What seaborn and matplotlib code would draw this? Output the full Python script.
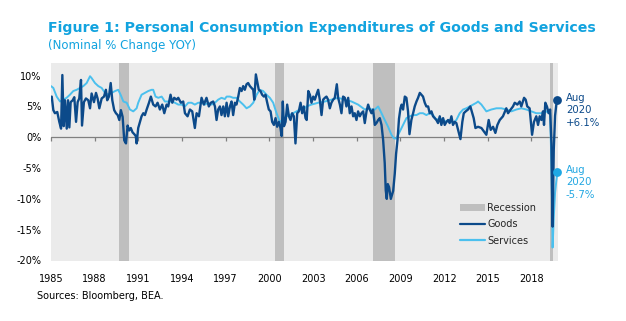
import numpy as np
import pandas as pd
import matplotlib
matplotlib.use("Agg")
import matplotlib.pyplot as plt
import seaborn as sns
from matplotlib.patches import Patch
from matplotlib.lines import Line2D

# ---------------- data ----------------
goods_year = [
    1985.85, 1985.96, 1986.07, 1986.23, 1986.37, 1986.49, 1986.58, 1986.67, 1986.76, 1986.88,
    1986.97, 1987.06, 1987.15, 1987.29, 1987.40, 1987.52, 1987.63, 1987.74, 1987.86, 1987.93,
    1988.06, 1988.20, 1988.36, 1988.48, 1988.59, 1988.75, 1988.89, 1989.00, 1989.12, 1989.28,
    1989.44, 1989.57, 1989.66, 1989.78, 1989.90, 1990.01, 1990.14, 1990.26, 1990.38, 1990.49,
    1990.60, 1990.72, 1990.83, 1990.95, 1991.06, 1991.17, 1991.28, 1991.40, 1991.52, 1991.62,
    1991.68, 1991.79, 1991.91, 1992.02, 1992.14, 1992.25, 1992.37, 1992.53, 1992.66, 1992.82,
    1992.98, 1993.12, 1993.28, 1993.44, 1993.58, 1993.74, 1993.85, 1994.01, 1994.13, 1994.26,
    1994.43, 1994.54, 1994.72, 1994.88, 1995.00, 1995.18, 1995.34, 1995.50, 1995.68, 1995.80,
    1995.96, 1996.14, 1996.30, 1996.48, 1996.64, 1996.78, 1996.94, 1997.06, 1997.17, 1997.28,
    1997.40, 1997.51, 1997.63, 1997.74, 1997.86, 1997.97, 1998.09, 1998.20, 1998.31, 1998.43,
    1998.54, 1998.66, 1998.77, 1998.89, 1999.00, 1999.11, 1999.23, 1999.34, 1999.46, 1999.57,
    1999.69, 1999.76, 1999.87, 1999.96, 2000.07, 2000.19, 2000.30, 2000.42, 2000.53, 2000.65,
    2000.76, 2000.88, 2000.99, 2001.11, 2001.22, 2001.33, 2001.45, 2001.56, 2001.64, 2001.72,
    2001.80, 2001.91, 2002.02, 2002.14, 2002.25, 2002.36, 2002.48, 2002.59, 2002.71, 2002.82,
    2002.94, 2003.05, 2003.16, 2003.28, 2003.36, 2003.47, 2003.58, 2003.69, 2003.81, 2003.92,
    2004.03, 2004.15, 2004.26, 2004.38, 2004.49, 2004.61, 2004.72, 2004.83, 2004.95, 2005.06,
    2005.18, 2005.29, 2005.43, 2005.52, 2005.64, 2005.75, 2005.86, 2005.98, 2006.09, 2006.21,
    2006.32, 2006.44, 2006.55, 2006.66, 2006.78, 2006.89, 2007.01, 2007.12, 2007.24, 2007.35,
    2007.47, 2007.58, 2007.69, 2007.81, 2007.92, 2008.04, 2008.15, 2008.27, 2008.38, 2008.50,
    2008.61, 2008.72, 2008.79, 2008.86, 2008.93, 2009.02, 2009.14, 2009.30, 2009.41, 2009.50,
    2009.60, 2009.70, 2009.80, 2009.88, 2009.98, 2010.10, 2010.21, 2010.32, 2010.42, 2010.55,
    2010.67, 2010.78, 2010.90, 2011.01, 2011.13, 2011.24, 2011.35, 2011.47, 2011.58, 2011.70,
    2011.81, 2011.93, 2012.04, 2012.16, 2012.27, 2012.38, 2012.50, 2012.61, 2012.73, 2012.84,
    2012.96, 2013.07, 2013.18, 2013.30, 2013.41, 2013.53, 2013.64, 2013.76, 2013.92, 2014.05,
    2014.15, 2014.28, 2014.44, 2014.60, 2014.70, 2014.83, 2014.95, 2015.13, 2015.36, 2015.70,
    2015.86, 2016.00, 2016.16, 2016.32, 2016.46, 2016.62, 2016.84, 2017.07, 2017.19, 2017.37,
    2017.53, 2017.65, 2017.83, 2017.99, 2018.10, 2018.29, 2018.40, 2018.51, 2018.67, 2018.84,
    2018.97, 2019.13, 2019.25, 2019.36, 2019.48, 2019.59, 2019.66, 2019.75, 2019.86, 2019.98,
    2020.08, 2020.17, 2020.25, 2020.33, 2020.42, 2020.50, 2020.58,
]
goods_pct = [
    6.6, 4.4, 3.9, 4.1, 2.5, 1.4, 10.1, 1.8, 6.0, 1.4,
    6.0, 1.6, 5.7, 6.0, 6.5, 2.5, 5.7, 6.3, 9.3, 1.9,
    5.7, 6.3, 6.0, 4.7, 7.1, 5.7, 7.2, 6.3, 4.7, 6.3,
    6.6, 7.7, 6.0, 6.6, 8.8, 6.0, 4.4, 3.9, 3.6, 2.8,
    4.4, 3.3, -0.5, -1.0, 1.9, 1.1, 1.5, 0.8, 0.5, 0.2,
    -1.0, 1.5, 2.5, 3.4, 3.9, 3.6, 4.5, 5.6, 6.6, 5.3,
    5.0, 5.6, 4.5, 5.3, 3.9, 5.3, 5.0, 6.9, 5.6, 6.4,
    6.1, 6.4, 5.6, 5.8, 3.9, 3.4, 4.5, 4.2, 1.5, 3.9,
    3.4, 6.4, 5.3, 6.4, 5.0, 5.6, 5.8, 5.0, 2.8, 4.5,
    5.0, 3.6, 5.0, 3.4, 5.6, 3.4, 5.0, 5.8, 3.6, 5.6,
    5.3, 6.6, 8.0, 7.5, 8.3, 7.7, 8.6, 8.8, 8.3, 8.0,
    7.7, 6.1, 10.2, 9.1, 7.7, 7.5, 6.9, 6.6, 6.9, 5.6,
    4.5, 4.2, 2.5, 2.0, 3.1, 1.7, 2.5, 1.5, 0.2, 5.8,
    1.8, 2.5, 5.3, 3.4, 2.8, 3.9, 3.4, -1.0, 3.9, 4.2,
    5.6, 3.9, 5.0, 3.1, 2.8, 7.5, 6.9, 5.6, 6.6, 6.1,
    6.9, 7.7, 6.1, 3.6, 6.1, 6.4, 6.6, 6.1, 4.7, 5.6,
    6.1, 6.4, 8.6, 6.4, 5.3, 3.9, 6.6, 6.4, 5.0, 6.4,
    3.9, 5.0, 3.4, 3.9, 2.8, 4.2, 3.4, 3.9, 4.2, 2.3,
    4.2, 5.3, 4.5, 3.9, 4.5, 2.0, 2.3, 2.8, 3.1, 2.0,
    -0.4, -4.2, -8.6, -10.0, -7.6, -8.1, -10.0, -8.7, -5.9, -2.7,
    -0.4, 3.0, 4.7, 5.3, 4.5, 6.6, 6.4, 4.2, 0.5, 2.8,
    3.9, 5.0, 5.8, 6.4, 7.2, 6.9, 6.6, 5.6, 5.0, 5.0,
    3.9, 4.2, 3.4, 3.1, 2.8, 2.3, 3.4, 2.0, 3.1, 2.0,
    2.5, 2.8, 2.3, 3.4, 2.0, 2.5, 2.3, 1.2, -0.3, 2.5,
    3.9, 4.2, 4.5, 5.0, 4.2, 3.1, 1.5, 1.7, 1.5, 0.4,
    2.8, 1.2, 1.7, 0.7, 2.0, 2.8, 3.4, 4.7, 3.9, 4.5,
    5.0, 5.6, 5.3, 5.8, 5.0, 6.4, 6.1, 5.0, 4.7, 0.4,
    2.5, 3.4, 2.0, 3.4, 2.8, 4.2, 2.0, 5.6, 5.0, 3.9,
    4.5, -1.0, -14.5, -2.0, 3.5, 5.2, 6.1,
]

services_year = [
    1985.80, 1985.96, 1986.19, 1986.42, 1986.65, 1986.87, 1987.10, 1987.33, 1987.56, 1987.79,
    1988.02, 1988.25, 1988.48, 1988.59, 1988.82, 1989.05, 1989.28, 1989.51, 1989.74, 1989.97,
    1990.20, 1990.42, 1990.58, 1990.77, 1991.00, 1991.22, 1991.45, 1991.68, 1991.79, 1992.02,
    1992.25, 1992.48, 1992.71, 1992.82, 1992.98, 1993.17, 1993.40, 1993.62, 1993.85, 1994.08,
    1994.31, 1994.54, 1994.77, 1995.00, 1995.23, 1995.45, 1995.68, 1995.91, 1996.14, 1996.37,
    1996.60, 1996.83, 1997.06, 1997.28, 1997.51, 1997.74, 1997.86, 1998.09, 1998.31, 1998.54,
    1998.77, 1999.00, 1999.23, 1999.46, 1999.69, 1999.92, 2000.14, 2000.37, 2000.60, 2000.83,
    2001.06, 2001.29, 2001.52, 2001.75, 2001.97, 2002.20, 2002.43, 2002.66, 2002.89, 2003.12,
    2003.35, 2003.69, 2004.15, 2004.61, 2005.06, 2005.52, 2005.98, 2006.44, 2006.89, 2007.35,
    2007.58, 2007.81, 2008.04, 2008.27, 2008.50, 2008.72, 2008.95, 2009.18, 2009.36, 2009.52,
    2009.75, 2009.98, 2010.21, 2010.44, 2010.67, 2010.90, 2011.13, 2011.35, 2011.58, 2011.81,
    2012.04, 2012.27, 2012.50, 2012.73, 2012.96, 2013.18, 2013.41, 2013.64, 2013.87, 2014.10,
    2014.33, 2014.56, 2014.79, 2015.02, 2015.13, 2015.36, 2015.70, 2016.04, 2016.39, 2016.73,
    2017.07, 2017.42, 2017.76, 2018.10, 2018.45, 2018.79, 2019.13, 2019.48, 2019.82, 2020.00,
    2020.08, 2020.17, 2020.25, 2020.33, 2020.42, 2020.50, 2020.58,
]
services_pct = [
    8.3, 8.0, 6.6, 5.8, 6.1, 6.4, 6.9, 7.5, 7.7, 8.0,
    8.3, 8.8, 9.9, 9.6, 8.8, 8.3, 8.0, 7.2, 6.9, 7.2,
    7.5, 7.7, 6.9, 5.8, 5.6, 4.5, 4.2, 4.7, 5.6, 6.9,
    7.2, 7.5, 7.7, 7.7, 6.6, 6.4, 6.6, 5.8, 5.8, 5.8,
    5.6, 5.3, 5.3, 5.0, 5.6, 5.6, 5.3, 5.6, 5.6, 5.3,
    5.6, 5.3, 5.6, 6.1, 6.4, 6.2, 6.6, 6.6, 6.4, 6.4,
    5.8, 5.3, 4.7, 5.0, 5.6, 6.9, 7.7, 7.5, 6.9, 6.4,
    5.6, 3.9, 2.5, 2.8, 3.4, 3.6, 3.9, 4.2, 4.5, 4.5,
    5.0, 5.3, 5.6, 5.8, 6.1, 6.4, 6.1, 5.8, 5.3, 4.5,
    4.7, 4.5, 4.5, 5.0, 3.9, 2.8, 1.7, 0.4, -0.2, -0.2,
    0.9, 2.0, 3.1, 3.4, 3.6, 3.6, 3.9, 3.9, 3.6, 3.9,
    3.6, 2.8, 3.1, 2.8, 2.5, 2.8, 2.3, 2.8, 3.9, 4.5,
    4.7, 5.0, 5.3, 5.6, 5.8, 5.3, 4.2, 4.5, 4.7, 4.7,
    4.5, 4.2, 4.5, 4.7, 4.5, 4.2, 3.9, 3.9, 4.2, 3.9,
    3.9, -4.5, -17.9, -13.0, -9.0, -7.2, -5.7,
]

recession_start = [1990.50, 2001.17, 2007.92, 2020.08]
recession_end = [1991.17, 2001.83, 2009.42, 2020.25]

tick_years = [1985, 1988, 1991, 1994, 1997, 2000, 2003, 2006, 2009, 2012, 2015, 2018]
y_ticks = [-20, -15, -10, -5, 0, 5, 10]

last_label_goods = "Aug\n2020\n+6.1%"
last_label_services = "Aug\n2020\n-5.7%"

# ---------------- styling ----------------
GOODS = "#0C4A8A"
SERV = "#4BC0EE"
SERV_TXT = "#22A7E2"
TITLE = "#12A3DF"
BG = "#EBEBEB"
REC = "#BFBFBF"

sns.set_style("white")
plt.rcParams["font.family"] = ["DejaVu Sans"]

W, H = 626, 321
fig = plt.figure(figsize=(W / 100, H / 100), dpi=100)
ax = fig.add_axes([51 / W, 1 - 260.5 / H, (557.7 - 51) / W, (260.5 - 63.3) / H])
ax.set_facecolor(BG)

for s, e in zip(recession_start, recession_end):
    ax.axvspan(s, e, color=REC, lw=0, zorder=1)

ax.axhline(0, color="#808080", lw=0.9, zorder=2)

df_g = pd.DataFrame({"year": goods_year, "pct": goods_pct})
df_s = pd.DataFrame({"year": services_year, "pct": services_pct})
sns.lineplot(data=df_s, x="year", y="pct", ax=ax, color=SERV, lw=1.4,
             estimator=None, sort=False, zorder=3)
sns.lineplot(data=df_g, x="year", y="pct", ax=ax, color=GOODS, lw=1.7,
             estimator=None, sort=False, zorder=4)

# end-point markers
sns.scatterplot(x=[goods_year[-1]], y=[goods_pct[-1]], ax=ax, color=GOODS,
                s=40, linewidth=0, zorder=6, clip_on=False)
sns.scatterplot(x=[services_year[-1]], y=[services_pct[-1]], ax=ax, color="#1EA8E4",
                s=40, linewidth=0, zorder=6, clip_on=False)

xmin, xmax = 1985.8, 2020.6
ax.set_xlim(xmin, xmax)
ax.set_ylim(-20, 12)

tick_pos = [y + (xmin - tick_years[0]) for y in tick_years]
ax.set_xticks(tick_pos)
ax.set_xticklabels([str(y) for y in tick_years])
ax.set_yticks(y_ticks)
ax.set_yticklabels([f"{v}%" for v in y_ticks])
ax.tick_params(axis="x", length=0, pad=10, labelsize=7, colors="black")
ax.tick_params(axis="y", length=0, pad=7, labelsize=7, colors="black")
ax.vlines(tick_pos, -0.55, 0, color="#808080", lw=0.9, zorder=2, clip_on=False)
for sp in ax.spines.values():
    sp.set_visible(False)
ax.set_xlabel("")
ax.set_ylabel("")
ax.grid(False)

# annotations at right
fig.text(566 / W, 1 - 93 / H, last_label_goods, color=GOODS, fontsize=7.3,
         va="top", ha="left", linespacing=1.3)
fig.text(566 / W, 1 - 165 / H, last_label_services, color=SERV_TXT, fontsize=7.3,
         va="top", ha="left", linespacing=1.3)

# legend
handles = [Patch(facecolor=REC, edgecolor="none"),
           Line2D([0], [0], color=GOODS, lw=1.6),
           Line2D([0], [0], color=SERV, lw=1.6)]
fig.legend(handles, ["Recession", "Goods", "Services"], loc="upper left",
           bbox_to_anchor=(460 / W, 1 - 203 / H), bbox_transform=fig.transFigure,
           frameon=False, fontsize=7, borderpad=0, handlelength=2.6,
           handletextpad=0.2, labelspacing=0.65, borderaxespad=0)

# titles and source
fig.text(48 / W, 1 - 28 / H, "Figure 1: Personal Consumption Expenditures of Goods and Services",
         color=TITLE, fontsize=10.2, fontweight="bold", va="center", ha="left")
fig.text(48 / W, 1 - 46 / H, "(Nominal % Change YOY)", color=TITLE, fontsize=8.5,
         va="center", ha="left")
fig.text(37 / W, 1 - 296 / H, "Sources: Bloomberg, BEA.", color="black", fontsize=7,
         va="center", ha="left")

fig.savefig("out.png", dpi=100)
